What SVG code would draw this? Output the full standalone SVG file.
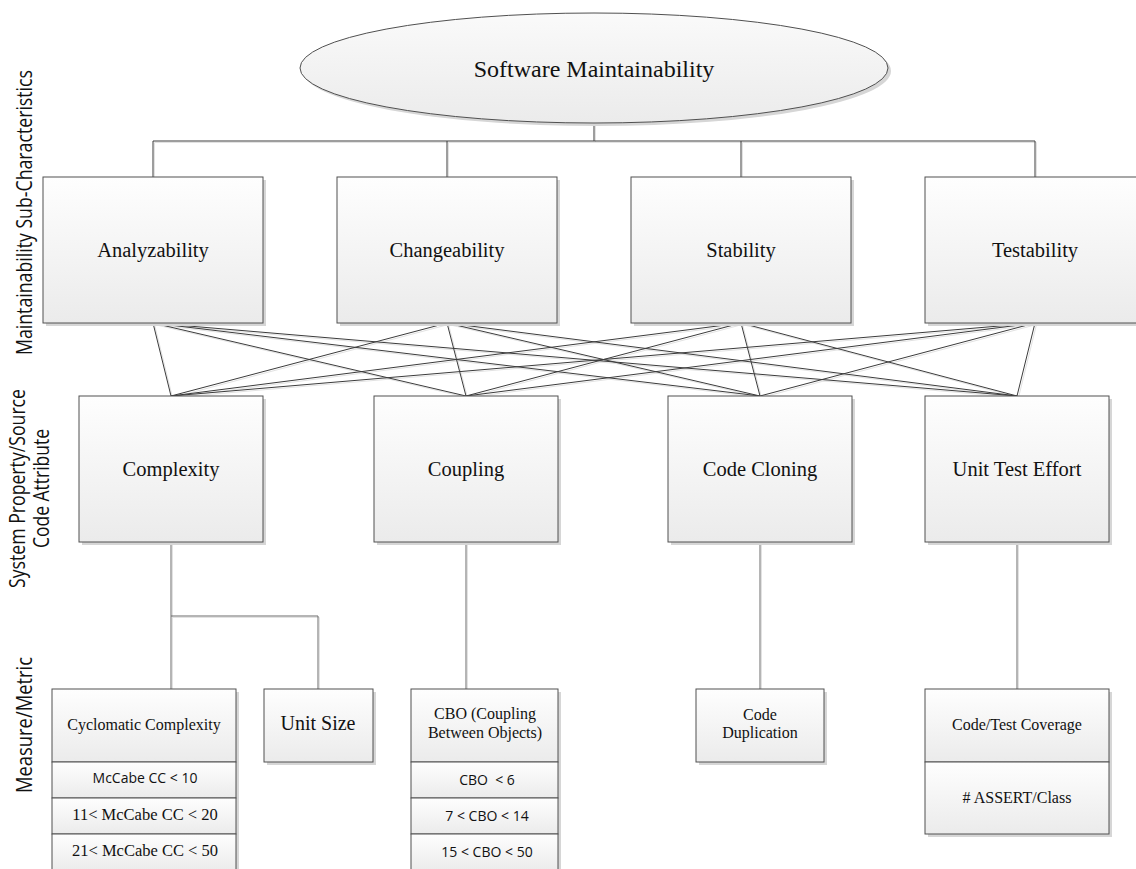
<svg xmlns="http://www.w3.org/2000/svg" width="1136" height="869" viewBox="0 0 1136 869">
<defs>
<linearGradient id="gBox" x1="0" y1="0" x2="0" y2="1">
<stop offset="0" stop-color="#fefefe"/>
<stop offset="1" stop-color="#ebebeb"/>
</linearGradient>
<linearGradient id="gEll" x1="0" y1="0" x2="0" y2="1">
<stop offset="0" stop-color="#fafafa"/>
<stop offset="1" stop-color="#ebebeb"/>
</linearGradient>
<style>
.box{fill:url(#gBox);stroke:#505050;stroke-width:1}
.sh{fill:#d6d6d6}
.ser{font-family:"Liberation Serif","Times New Roman",serif;fill:#111;text-anchor:middle}
.sans{font-family:"Open Sans","Liberation Sans",Arial,sans-serif;fill:#111;text-anchor:middle}
.l1{font-size:20.5px}
.l3{font-size:16px}
.rs{font-size:14px}
.ax{font-family:"Open Sans","Liberation Sans",Arial,sans-serif;font-size:21px;fill:#111;text-anchor:middle}
.ln{stroke:#3c3c3c;stroke-width:1;fill:none}
.lns{stroke:#e2e2e2;stroke-width:1;fill:none}
.vl{stroke:#6a6a6a;stroke-width:1;fill:none}
</style>
</defs>
<rect width="1136" height="869" fill="#ffffff"/>

<g id="axis-labels">
<text class="ax" transform="translate(32,212.5) rotate(-90)" textLength="285" lengthAdjust="spacingAndGlyphs">Maintainability Sub-Characteristics</text>
<text class="ax" transform="translate(25,488.5) rotate(-90)" textLength="199" lengthAdjust="spacingAndGlyphs">System Property/Source</text>
<text class="ax" transform="translate(49,488.5) rotate(-90)" textLength="119" lengthAdjust="spacingAndGlyphs">Code Attribute</text>
<text class="ax" transform="translate(32,725) rotate(-90)" textLength="136" lengthAdjust="spacingAndGlyphs">Measure/Metric</text>
</g>

<g id="connectors">
<g transform="translate(1.5,1.5)" class="lns">
<path d="M594 123V141M153 141H1035M153 141V177M447 141V177M741 141V177M1035 141V177"/>
<path d="M153 323L171 396M153 323L466 396M153 323L760 396M153 323L1017 396"/>
<path d="M447 323L171 396M447 323L466 396M447 323L760 396M447 323L1017 396"/>
<path d="M741 323L171 396M741 323L466 396M741 323L760 396M741 323L1017 396"/>
<path d="M1035 323L171 396M1035 323L466 396M1035 323L760 396M1035 323L1017 396"/>
<path d="M171 542V689M171 616H318V689M466 542V689M760 542V689M1017 542V689"/>
</g>
<path class="ln" d="M594 123V141M153 141H1035M153 141V177M447 141V177M741 141V177M1035 141V177"/>
<path class="ln" d="M153 323L171 396M153 323L466 396M153 323L760 396M153 323L1017 396"/>
<path class="ln" d="M447 323L171 396M447 323L466 396M447 323L760 396M447 323L1017 396"/>
<path class="ln" d="M741 323L171 396M741 323L466 396M741 323L760 396M741 323L1017 396"/>
<path class="ln" d="M1035 323L171 396M1035 323L466 396M1035 323L760 396M1035 323L1017 396"/>
<path class="vl" d="M171 542V689M171 616H318V689M466 542V689M760 542V689M1017 542V689"/>
</g>

<g id="software-maintainability">
<ellipse cx="597" cy="71" rx="294" ry="55" class="sh"/>
<ellipse cx="594" cy="68" rx="294" ry="55" fill="url(#gEll)" stroke="#505050" stroke-width="1"/>
<text class="ser" x="594" y="77" font-size="24">Software Maintainability</text>
</g>

<g id="analyzability">
<rect x="46" y="180" width="220" height="146" class="sh"/>
<rect x="43" y="177" width="220" height="146" class="box"/>
<text class="ser l1" x="153" y="257">Analyzability</text>
</g>
<g id="changeability">
<rect x="340" y="180" width="220" height="146" class="sh"/>
<rect x="337" y="177" width="220" height="146" class="box"/>
<text class="ser l1" x="447" y="257">Changeability</text>
</g>
<g id="stability">
<rect x="634" y="180" width="220" height="146" class="sh"/>
<rect x="631" y="177" width="220" height="146" class="box"/>
<text class="ser l1" x="741" y="257">Stability</text>
</g>
<g id="testability">
<rect x="928" y="180" width="220" height="146" class="sh"/>
<rect x="925" y="177" width="220" height="146" class="box"/>
<text class="ser l1" x="1035" y="257">Testability</text>
</g>

<g id="complexity">
<rect x="82" y="399" width="184" height="146" class="sh"/>
<rect x="79" y="396" width="184" height="146" class="box"/>
<text class="ser l1" x="171" y="476">Complexity</text>
</g>
<g id="coupling">
<rect x="377" y="399" width="184" height="146" class="sh"/>
<rect x="374" y="396" width="184" height="146" class="box"/>
<text class="ser l1" x="466" y="476">Coupling</text>
</g>
<g id="code-cloning">
<rect x="671" y="399" width="184" height="146" class="sh"/>
<rect x="668" y="396" width="184" height="146" class="box"/>
<text class="ser l1" x="760" y="476">Code Cloning</text>
</g>
<g id="unit-test-effort">
<rect x="928" y="399" width="184" height="146" class="sh"/>
<rect x="925" y="396" width="184" height="146" class="box"/>
<text class="ser l1" x="1017" y="476">Unit Test Effort</text>
</g>

<g id="cyclomatic-complexity">
<rect x="55" y="692" width="184" height="180" class="sh"/>
<rect x="52" y="689" width="184" height="73" class="box"/>
<rect x="52" y="762" width="184" height="36" class="box"/>
<rect x="52" y="798" width="184" height="36" class="box"/>
<rect x="52" y="834" width="184" height="38" class="box"/>
<text class="ser l3" x="144" y="730">Cyclomatic Complexity</text>
<text class="sans rs" x="145" y="783">McCabe CC &lt; 10</text>
<text class="ser" x="145" y="820" font-size="16.5">11&lt; McCabe CC &lt; 20</text>
<text class="ser" x="145" y="856" font-size="16.5">21&lt; McCabe CC &lt; 50</text>
</g>

<g id="unit-size">
<rect x="267" y="692" width="109" height="73" class="sh"/>
<rect x="264" y="689" width="109" height="73" class="box"/>
<text class="ser" x="318" y="730" font-size="20">Unit Size</text>
</g>

<g id="cbo">
<rect x="414" y="692" width="147" height="180" class="sh"/>
<rect x="411" y="689" width="147" height="73" class="box"/>
<rect x="411" y="762" width="147" height="36" class="box"/>
<rect x="411" y="798" width="147" height="36" class="box"/>
<rect x="411" y="834" width="147" height="38" class="box"/>
<text class="ser l3" x="485" y="719">CBO (Coupling</text>
<text class="ser l3" x="485" y="738">Between Objects)</text>
<text class="sans rs" x="487" y="785" xml:space="preserve">CBO  &lt; 6</text>
<text class="sans rs" x="487" y="821">7 &lt; CBO &lt; 14</text>
<text class="sans rs" x="487" y="857">15 &lt; CBO &lt; 50</text>
</g>

<g id="code-duplication">
<rect x="699" y="692" width="128" height="73" class="sh"/>
<rect x="696" y="689" width="128" height="73" class="box"/>
<text class="ser l3" x="760" y="720">Code</text>
<text class="ser l3" x="760" y="738">Duplication</text>
</g>

<g id="code-test-coverage">
<rect x="928" y="692" width="184" height="145" class="sh"/>
<rect x="925" y="689" width="184" height="73" class="box"/>
<rect x="925" y="762" width="184" height="72" class="box"/>
<text class="ser l3" x="1017" y="730">Code/Test Coverage</text>
<text class="ser l3" x="1017" y="803"># ASSERT/Class</text>
</g>
</svg>
